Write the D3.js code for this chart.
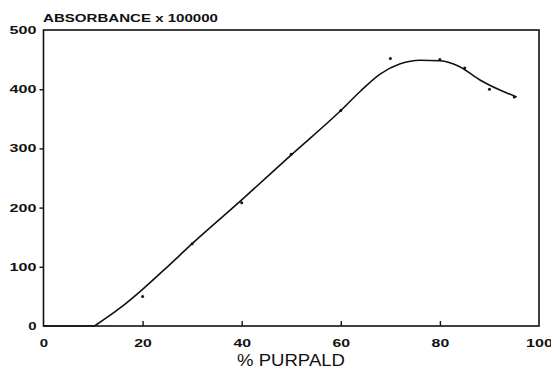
<!DOCTYPE html>
<html>
<head>
<meta charset="utf-8">
<script src="https://cdn.jsdelivr.net/npm/d3@7"></script>
<style>
  body { margin: 0; background: #fff; }
  svg text { font-family: "Liberation Sans", Arial, sans-serif; fill: #111; }
</style>
</head>
<body>
<div id="chart"></div>
<script>
const width = 551, height = 371;

// measured points (% purpald, absorbance x 100000)
const pointX = [20, 30, 40, 50, 60, 70, 80, 85, 90, 95];
const pointY = [50, 139, 208, 290, 364, 452, 450, 436, 400, 387];

// fitted curve (flat part first, then the rise)
const flatX = [0, 10.3];
const flatY = [0, 0];
const curveX = [10.3, 15.4, 20, 25, 30, 40, 50, 60, 64, 68, 72, 76, 80, 84, 88, 92, 95.5];
const curveY = [0, 30, 62, 100, 139, 213, 289, 364, 397, 426, 443, 449, 448, 438, 416, 399, 387];

const xTicks = [0, 20, 40, 60, 80, 100];
const yTicks = [0, 100, 200, 300, 400, 500];

const x = d3.scaleLinear().domain([0, 100]).range([43.5, 539]);
const y = d3.scaleLinear().domain([0, 500]).range([326, 30]);

const svg = d3.select("#chart").append("svg")
    .attr("width", width)
    .attr("height", height);

// frame round the plot
svg.append("rect")
    .attr("x", x(0)).attr("y", y(500))
    .attr("width", x(100) - x(0)).attr("height", y(0) - y(500))
    .style("fill", "none")
    .style("stroke", "#111")
    .style("stroke-width", 1.6);

// y axis, ticks pointing out
const yAxis = svg.append("g")
    .attr("transform", `translate(${x(0)},0)`)
    .call(d3.axisLeft(y).tickValues(yTicks).tickSize(4).tickSizeOuter(0).tickPadding(3));
yAxis.select(".domain").remove();
yAxis.selectAll(".tick line")
    .style("stroke", "#111").style("stroke-width", 1.4)
    .filter(d => d === 0 || d === 500).remove();
yAxis.selectAll(".tick text")
    .style("font-size", "11px").style("font-weight", "bold")
    .attr("textLength", d => String(d).length * 9.3 - 1)
    .attr("lengthAdjust", "spacingAndGlyphs");

// x axis, ticks pointing in
const xAxis = svg.append("g")
    .attr("transform", `translate(0,${y(0)})`)
    .call(d3.axisBottom(x).tickValues(xTicks).tickSizeInner(-5).tickSizeOuter(0).tickPadding(13));
xAxis.select(".domain").remove();
xAxis.selectAll(".tick line")
    .style("stroke", "#111").style("stroke-width", 1.4)
    .filter(d => d === 0 || d === 100).remove();
xAxis.selectAll(".tick text")
    .style("font-size", "11px").style("font-weight", "bold")
    .attr("textLength", d => String(d).length * 9.3 - 1)
    .attr("lengthAdjust", "spacingAndGlyphs");

// fitted curve
const line = d3.line().x(d => x(d[0])).y(d => y(d[1]));
svg.append("path")
    .datum(flatX.map((d, i) => [d, flatY[i]]))
    .attr("d", line)
    .style("fill", "none")
    .style("stroke", "#111")
    .style("stroke-width", 1.6);
svg.append("path")
    .datum(curveX.map((d, i) => [d, curveY[i]]))
    .attr("d", line.curve(d3.curveMonotoneX))
    .style("fill", "none")
    .style("stroke", "#111")
    .style("stroke-width", 1.6);

// data points
svg.selectAll(".pt")
    .data(pointX.map((d, i) => [d, pointY[i]]))
    .enter().append("circle")
    .attr("class", "pt")
    .attr("cx", d => x(d[0]))
    .attr("cy", d => y(d[1]))
    .attr("r", 1.5)
    .style("fill", "#111");

// titles
svg.append("text")
    .attr("x", 43).attr("y", 22)
    .attr("textLength", 175).attr("lengthAdjust", "spacingAndGlyphs")
    .style("font-size", "11px").style("font-weight", "bold")
    .text("ABSORBANCE x 100000");

svg.append("text")
    .attr("x", 291).attr("y", 366)
    .attr("text-anchor", "middle")
    .attr("textLength", 108).attr("lengthAdjust", "spacingAndGlyphs")
    .style("font-size", "16px")
    .text("% PURPALD");
</script>
</body>
</html>
